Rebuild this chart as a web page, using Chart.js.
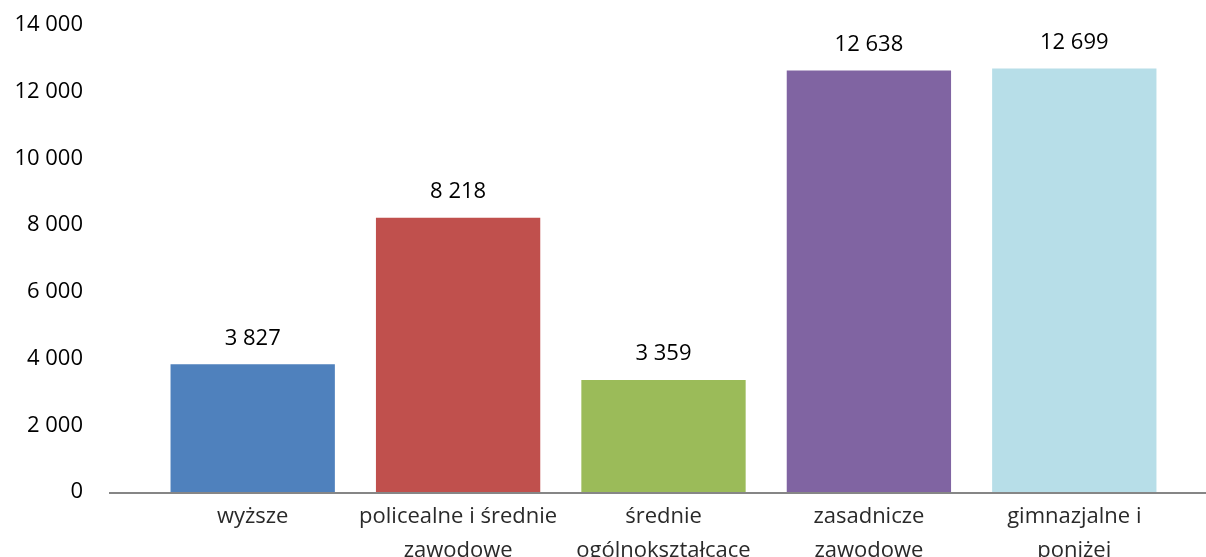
<!DOCTYPE html>
<html>
<head>
<meta charset="utf-8">
<script src="https://cdn.jsdelivr.net/npm/chart.js@4"></script>
<style>
  html, body { margin: 0; padding: 0; background: #fff; overflow: hidden; }
  canvas { display: block; }
</style>
</head>
<body>
<canvas id="educationChart" width="1206" height="557"></canvas>
<script>
var categories = [
    'wyższe',
    ['policealne i średnie', 'zawodowe'],
    ['średnie', 'ogólnokształcące'],
    ['zasadnicze', 'zawodowe'],
    ['gimnazjalne i', 'poniżej']
];
var values = [3827, 8218, 3359, 12638, 12699];
var barColors = ['#4F81BD', '#C0504D', '#9BBB59', '#8064A2', '#B7DEE8'];
var yTicks = [0, 2000, 4000, 6000, 8000, 10000, 12000, 14000];

function spaced(n) {
    return String(n).replace(/\B(?=(\d{3})+(?!\d))/g, ' ');
}

// value labels above each bar
var valueLabels = {
    id: 'valueLabels',
    afterDatasetsDraw: function (chart) {
        var ctx = chart.ctx;
        var meta = chart.getDatasetMeta(0);
        ctx.save();
        ctx.font = '22px "Open Sans"';
        ctx.fillStyle = '#000';
        ctx.textAlign = 'center';
        ctx.textBaseline = 'middle';
        meta.data.forEach(function (bar, i) {
            ctx.fillText(spaced(values[i]), bar.x, bar.y - 26);
        });
        ctx.restore();
    }
};

// horizontal axis line running past the plot area
var baseLine = {
    id: 'baseLine',
    afterDatasetsDraw: function (chart) {
        var ctx = chart.ctx;
        var y = chart.scales.y.getPixelForValue(0);
        ctx.save();
        ctx.strokeStyle = '#868686';
        ctx.lineWidth = 2;
        ctx.beginPath();
        ctx.moveTo(109, y + 1);
        ctx.lineTo(chart.width, y + 1);
        ctx.stroke();
        ctx.restore();
    }
};

var ctx = document.getElementById('educationChart').getContext('2d');
var chart = new Chart(ctx, {
    type: 'bar',
    data: {
        labels: categories,
        datasets: [{
            data: values,
            backgroundColor: barColors,
            borderWidth: 0,
            categoryPercentage: 1,
            barPercentage: 0.8
        }]
    },
    options: {
        responsive: false,
        animation: false,
        layout: { padding: { top: 25, right: 29, left: 0, bottom: 0 } },
        plugins: {
            legend: { display: false },
            tooltip: { enabled: false }
        },
        scales: {
            x: {
                grid: { display: false, drawTicks: false },
                border: { display: false },
                ticks: {
                    color: '#2a2a2a',
                    padding: 8,
                    maxRotation: 0,
                    autoSkip: false,
                    font: { family: '"Open Sans"', size: 22, lineHeight: 1.55 }
                },
                afterFit: function (scale) { scale.height = 65; }
            },
            y: {
                min: 0,
                max: 14000,
                afterBuildTicks: function (scale) {
                    scale.ticks = yTicks.map(function (v) { return { value: v }; });
                },
                grid: { display: false, drawTicks: false },
                border: { display: false },
                ticks: {
                    color: '#000',
                    padding: 67,
                    font: { family: '"Open Sans"', size: 22 },
                    callback: function (v) { return spaced(v); }
                },
                afterFit: function (scale) {
                    scale.width = 150;
                    scale.paddingTop = 0;
                    scale.paddingBottom = 0;
                }
            }
        }
    },
    plugins: [valueLabels, baseLine]
});
</script>
</body>
</html>
